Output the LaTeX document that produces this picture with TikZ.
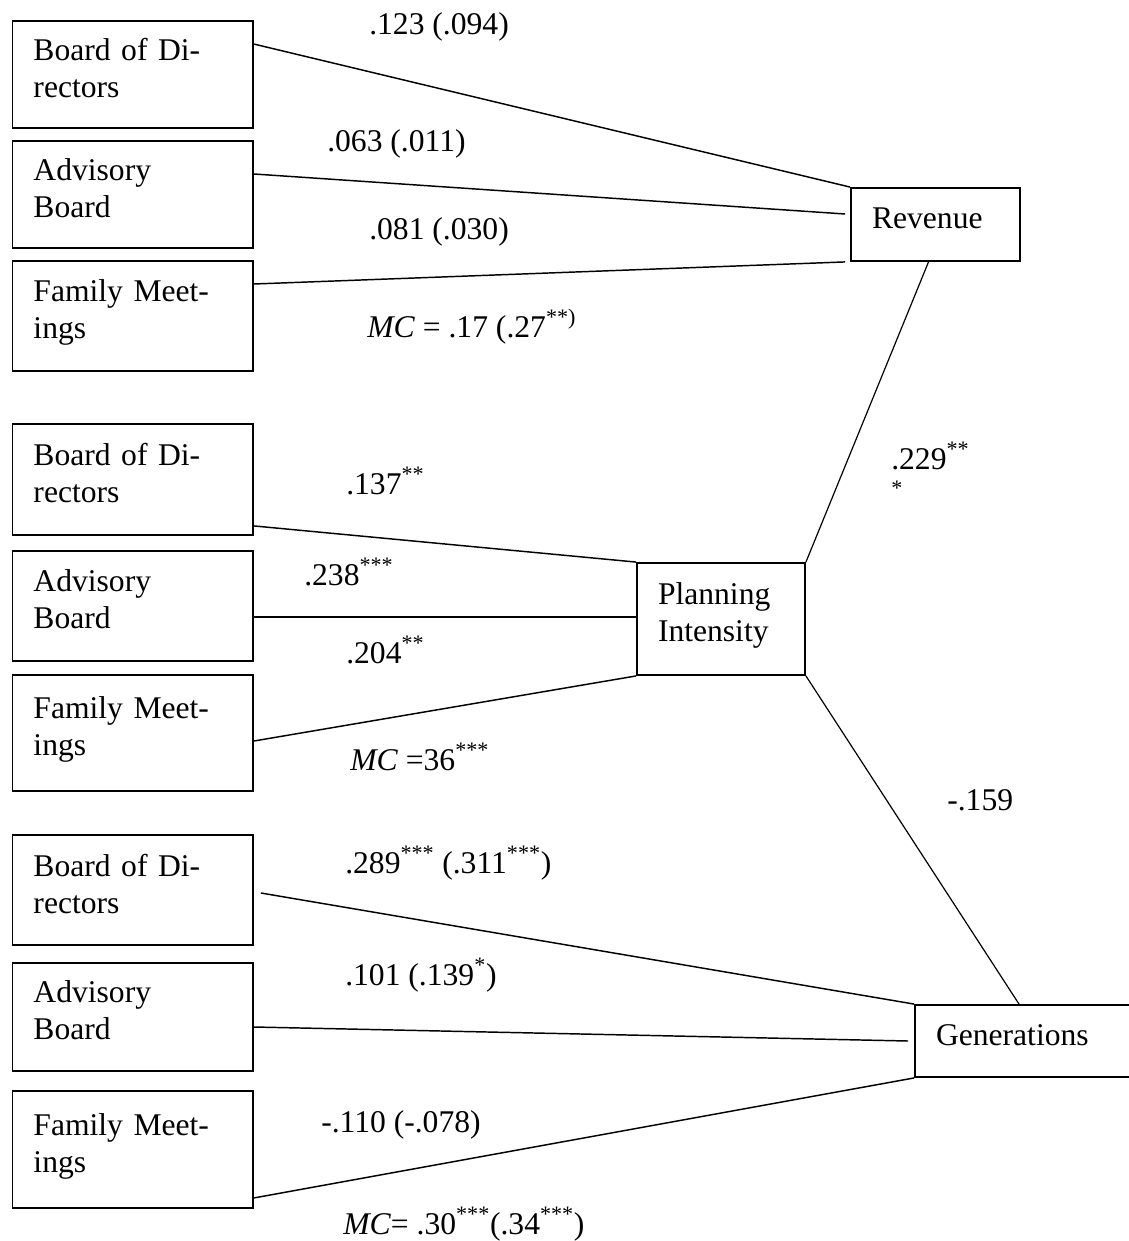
\documentclass[tikz,border=0pt]{standalone}
\usepackage{fontspec}
\setmainfont{Liberation Serif}
\usetikzlibrary{calc}
\begin{document}
\begin{tikzpicture}[x=0.75pt,y=-0.75pt,
  font=\fontsize{23.7pt}{27.75pt}\selectfont,
  box/.style={draw,line width=1.4pt,inner xsep=15.75pt,inner ysep=0pt,align=left,text depth=9pt},
  twoline/.style={text depth=37.5pt},
  lbox/.style={box,twoline,text width=148.9pt},
  link/.style={line width=1.1pt},
  thinlink/.style={line width=0.9pt},
  lab/.style={anchor=base west,inner sep=0pt}]
\useasboundingbox (0,0) rectangle (1128,1241);

% left boxes
\node[lbox,minimum height=80.25pt] (b1) at (132.75,74.5) {Board of Di-\\rectors};
\node[lbox,minimum height=80.25pt] (a1) at (132.75,194.5) {Advisory\\Board};
\node[lbox,minimum height=82.5pt] (f1) at (132.75,316) {Family Meet-\\ings};
\node[lbox,minimum height=83.25pt] (b2) at (132.75,479.5) {Board of Di-\\rectors};
\node[lbox,minimum height=82.5pt] (a2) at (132.75,606) {Advisory\\Board};
\node[lbox,minimum height=87pt] (f2) at (132.75,733) {Family Meet-\\ings};
\node[lbox,minimum height=82.5pt] (b3) at (132.75,890) {Board of Di-\\rectors};
\node[lbox,minimum height=81pt] (a3) at (132.75,1017) {Advisory\\Board};
\node[lbox,minimum height=87.75pt] (f3) at (132.75,1149.5) {Family Meet-\\ings};

% outcome boxes
\node[box,text width=95.25pt,minimum height=54.75pt] (rev) at (935.5,224.5) {Revenue};
\node[box,twoline,text width=94.5pt,minimum height=84pt] (pi) at (721,619) {Planning\\Intensity};
\node[box,text width=133.5pt,minimum height=54pt] (gen) at (1025,1041) {Generations};

% connectors
\draw[link] ($(b1.north east)+(0,24)$) -- (rev.north west);
\draw[link] ($(a1.east)+(0,-20.5)$) -- ($(rev.west)+(-5,-10.5)$);
\draw[link] ($(f1.east)+(0,-32)$) -- ($(rev.south west)+(-5,0)$);
\draw[link] ($(b2.south east)+(0,-10)$) -- (pi.north west);
\coordinate (a2o) at ($(a2.east)+(0,11)$);
\draw[link] (a2o) -- (pi.west |- a2o);
\draw[link] ($(f2.east)+(0,8)$) -- (pi.south west);
\draw[link] ($(b3.east)+(7,3)$) -- (gen.north west);
\draw[link] ($(a3.east)+(0,10)$) -- ($(gen.west)+(-6,0)$);
\draw[link] ($(f3.south east)+(0,-11)$) -- (gen.south west);
\draw[thinlink] ($(rev.south)+(-7,0)$) -- (pi.north east);
\draw[thinlink] (pi.south east) -- ($(gen.north)+(-6,0)$);

% labels
\node[lab] (l1) at (369,35) {.123 (.094)};
\node[lab] (l2) at (327,152) {.063 (.011)};
\node[lab] (l3) at (369,239) {.081 (.030)};
\node[lab] (l4) at (367,337) {\textit{MC} = .17 (.27\textsuperscript{**)}};
\node[lab] (l5) at (346,494) {.137\textsuperscript{**}};
\node[lab] (l6) at (304,585) {.238\textsuperscript{***}};
\node[lab] (l7) at (346,663) {.204\textsuperscript{**}};
\node[lab] (l8) at (350,770) {\textit{MC} =36\textsuperscript{***}};
\node[lab] (l9) at (891,469) {.229\textsuperscript{**}};
\node[lab] (l9b) at (891,508) {\textsuperscript{*}};
\node[lab] (l10) at (947,810) {-.159};
\node[lab] (l11) at (345,873) {.289\textsuperscript{***} (.311\textsuperscript{***})};
\node[lab] (l12) at (345,985) {.101 (.139\textsuperscript{*})};
\node[lab] (l13) at (321,1132) {-.110 (-.078)};
\node[lab] (l14) at (343,1234) {\textit{MC}= .30\textsuperscript{***}(.34\textsuperscript{***})};
\end{tikzpicture}
\end{document}
